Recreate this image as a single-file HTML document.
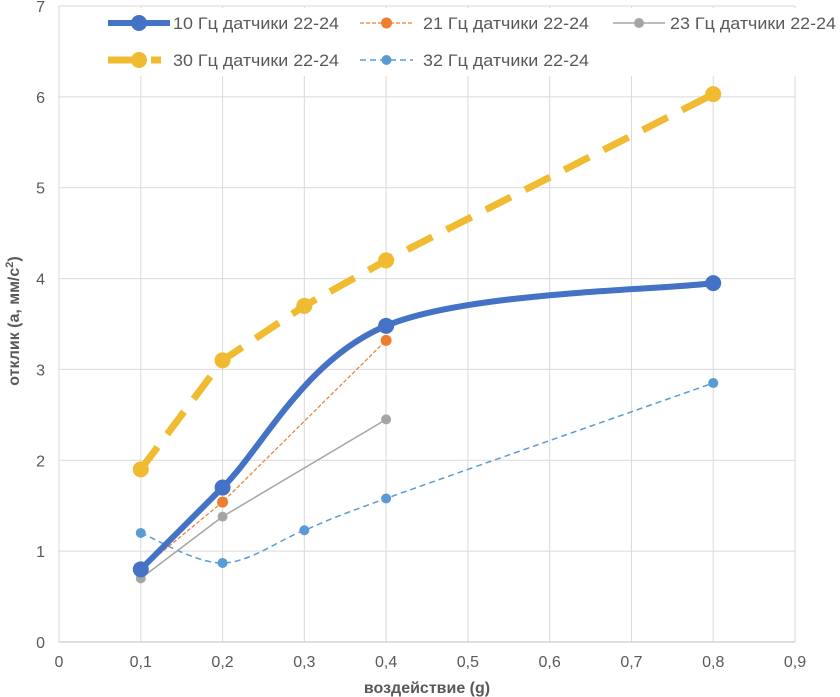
<!DOCTYPE html>
<html><head><meta charset="utf-8">
<style>
html,body{margin:0;padding:0;background:#fff;}
svg{display:block;font-family:"Liberation Sans","DejaVu Sans",sans-serif;}
</style></head>
<body>
<svg id="chart" width="840" height="697" viewBox="0 0 840 697" xmlns="http://www.w3.org/2000/svg"></svg>
<script>
const xTicks=[0,0.1,0.2,0.3,0.4,0.5,0.6,0.7,0.8,0.9];
const xTickLabels=["0","0,1","0,2","0,3","0,4","0,5","0,6","0,7","0,8","0,9"];
const yTicks=[0,1,2,3,4,5,6,7];
const s10x=[0.1,0.2,0.4,0.8]; const s10y=[0.8,1.7,3.48,3.95];
const s21x=[0.1,0.2,0.4]; const s21y=[0.8,1.54,3.32];
const s23x=[0.1,0.2,0.4]; const s23y=[0.7,1.38,2.45];
const s30x=[0.1,0.2,0.3,0.4,0.8]; const s30y=[1.9,3.1,3.7,4.2,6.03];
const s32x=[0.1,0.2,0.3,0.4,0.8]; const s32y=[1.2,0.87,1.23,1.58,2.85];

const X0=59,X1=795,Y0=642,Y1=6;
const xs=v=>X0+(v/0.9)*(X1-X0);
const ys=v=>Y0-(v/7)*(Y0-Y1);
const svg=document.getElementById('chart');
const NS="http://www.w3.org/2000/svg";
function mk(tag,attrs,parent){const e=document.createElementNS(NS,tag);for(const k in attrs)e.setAttribute(k,attrs[k]);(parent||svg).appendChild(e);return e;}

const grid=mk('g',{});


yTicks.forEach(t=>{if(t>0){const l=mk('line',{x1:X0,x2:X1,y1:ys(t),y2:ys(t),stroke:'#d9d9d9','stroke-width':1},grid);

}});
xTicks.forEach(t=>{if(t>0){const l=mk('line',{x1:xs(t),x2:xs(t),y1:Y1,y2:Y0,stroke:'#d9d9d9','stroke-width':1},grid);

}});
const ax=mk('line',{x1:X0,x2:X0,y1:Y1,y2:Y0,stroke:'#d9d9d9'});


const bx=mk('line',{x1:X0,x2:X1,y1:Y0,y2:Y0,stroke:'#bfbfbf'});



yTicks.forEach(t=>{const e=mk('text',{x:X0-14,y:ys(t)+6,'text-anchor':'end','font-size':16,fill:'#595959'});e.textContent=t;

});
xTicks.forEach((t,i)=>{const e=mk('text',{x:xs(t),y:667,'text-anchor':'middle','font-size':16,fill:'#595959'});e.textContent=xTickLabels[i];

});

const xt=mk('text',{x:427,y:693,'text-anchor':'middle','font-size':16,'font-weight':'bold',fill:'#595959'});
xt.textContent='воздействие (g)';


const yt=mk('text',{x:0,y:0,'text-anchor':'middle','font-size':16,'font-weight':'bold',fill:'#595959',transform:'translate(19,321) rotate(-90)'});
yt.innerHTML='отклик (а, мм/с<tspan baseline-shift="super" font-size="11">2</tspan>)';



function pts(xa,ya){return xa.map((v,i)=>[xs(v),ys(ya[i])]);}
function straight(p){return 'M'+p.map(q=>q[0]+','+q[1]).join(' L');}
function smooth(p){let d='M'+p[0][0]+','+p[0][1];const t=1/6;
for(let i=0;i<p.length-1;i++){const p0=p[i-1]||p[i],p1=p[i],p2=p[i+1],p3=p[i+2]||p2;
d+=' C'+(p1[0]+(p2[0]-p0[0])*t)+','+(p1[1]+(p2[1]-p0[1])*t)+' '+(p2[0]-(p3[0]-p1[0])*t)+','+(p2[1]-(p3[1]-p1[1])*t)+' '+p2[0]+','+p2[1];}
return d;}
function series(name,xa,ya,color,w,dash,r,sm){
const g=mk('g',{});


const p=pts(xa,ya);
mk('path',{d:sm?smooth(p):straight(p),fill:'none',stroke:color,'stroke-width':w,'stroke-dasharray':dash||'none','stroke-linejoin':'round'},g);
p.forEach(q=>{const c=mk('circle',{cx:q[0],cy:q[1],r:r,fill:color},g);

});}
series('series-30hz',s30x,s30y,'#f0bb30',7,'28,16',8,false);
series('series-32hz',s32x,s32y,'#5b9bd5',1.5,'6,4',5,true);
series('series-23hz',s23x,s23y,'#a5a5a5',1.5,null,5,false);
series('series-21hz',s21x,s21y,'#ed7d31',1.2,'4,2',5.5,false);
series('series-10hz',s10x,s10y,'#4472c4',6,null,8,true);

const lg=mk('g',{});


mk('rect',{x:100,y:8,width:740,height:68,fill:'#fff'},lg);
// [label,color,width,dash,r,lineX1,lineX2,y,textX]
const legend=[
 ['10 Гц датчики 22-24','#4472c4',6,null,8,108,170,23,173],
 ['21 Гц датчики 22-24','#ed7d31',1.2,'4,2',5.5,360,413,23,423],
 ['23 Гц датчики 22-24','#a5a5a5',1.5,null,5,613,665,23,670],
 ['30 Гц датчики 22-24','#f0bb30',7,'36,7,10,20',8,108,170,60,173],
 ['32 Гц датчики 22-24','#5b9bd5',1.5,'6,4',5,360,413,60,423]];
legend.forEach(L=>{const e=mk('g',{},lg);


mk('line',{x1:L[5],x2:L[6],y1:L[7],y2:L[7],stroke:L[1],'stroke-width':L[2],'stroke-dasharray':L[3]||'none'},e);
mk('circle',{cx:(L[5]+L[6])/2,cy:L[7],r:L[4],fill:L[1]},e);
const t=mk('text',{x:L[8],y:L[7]+6,'font-size':17,fill:'#595959',textLength:166,lengthAdjust:'spacingAndGlyphs'},e);t.textContent=L[0];});
</script>
</body></html>
